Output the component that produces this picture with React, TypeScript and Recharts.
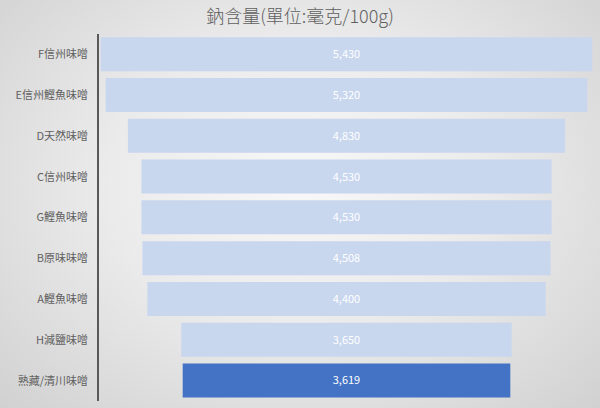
import { BarChart, Bar, XAxis, YAxis, LabelList, Cell } from 'recharts';

const categories = [
  'F信州味噌',
  'E信州鰹魚味噌',
  'D天然味噌',
  'C信州味噌',
  'G鰹魚味噌',
  'B原味味噌',
  'A鰹魚味噌',
  'H減鹽味噌',
  '熟藏/清川味噌',
];
const sodium = [5430, 5320, 4830, 4530, 4530, 4508, 4400, 3650, 3619];
const highlight = [false, false, false, false, false, false, false, false, true];

const axisMax = 5490;

// funnel: an invisible spacer pushes each bar to the middle
const data = categories.map((name, i) => ({
  name,
  pad: (axisMax - sodium[i]) / 2,
  value: sodium[i],
}));

const font = '"Noto Sans CJK TC", "Noto Sans", sans-serif';

export default function App() {
  return (
    <div
      style={{
        position: 'relative',
        width: 600,
        height: 408,
        background: 'radial-gradient(ellipse at 50% 45%, #f8f8f8 0%, #ebebeb 45%, #d1d1d1 100%)',
        fontFamily: font,
      }}
    >
      <style>{'body{margin:0}'}</style>
      <div
        style={{
          position: 'absolute',
          top: 2,
          left: 0,
          width: 600,
          textAlign: 'center',
          fontSize: 18,
          fontWeight: 300,
          color: '#5f5f5f',
        }}
      >
        鈉含量(單位:毫克/100g)
      </div>
      <BarChart
        width={600}
        height={408}
        data={data}
        layout="vertical"
        margin={{ top: 34, right: 5, bottom: 7, left: 0 }}
        barCategoryGap="8%"
      >
        <XAxis type="number" domain={[0, axisMax]} hide />
        <YAxis
          type="category"
          dataKey="name"
          width={98}
          tickLine={false}
          tickMargin={4}
          axisLine={{ stroke: '#595959', strokeWidth: 2 }}
          tick={{ fontSize: 11, fill: '#606060', fontFamily: font }}
          interval={0}
        />
        <Bar dataKey="pad" stackId="f" fill="transparent" isAnimationActive={false} />
        <Bar dataKey="value" stackId="f" isAnimationActive={false}>
          {data.map((d, i) => (
            <Cell key={d.name} fill={highlight[i] ? '#4472c4' : '#c8d6ee'} />
          ))}
          <LabelList
            dataKey="value"
            position="center"
            fill="#ffffff"
            fontSize={11}
            fontFamily={font}
            formatter={(v: number) => v.toLocaleString('en-US')}
          />
        </Bar>
      </BarChart>
    </div>
  );
}
